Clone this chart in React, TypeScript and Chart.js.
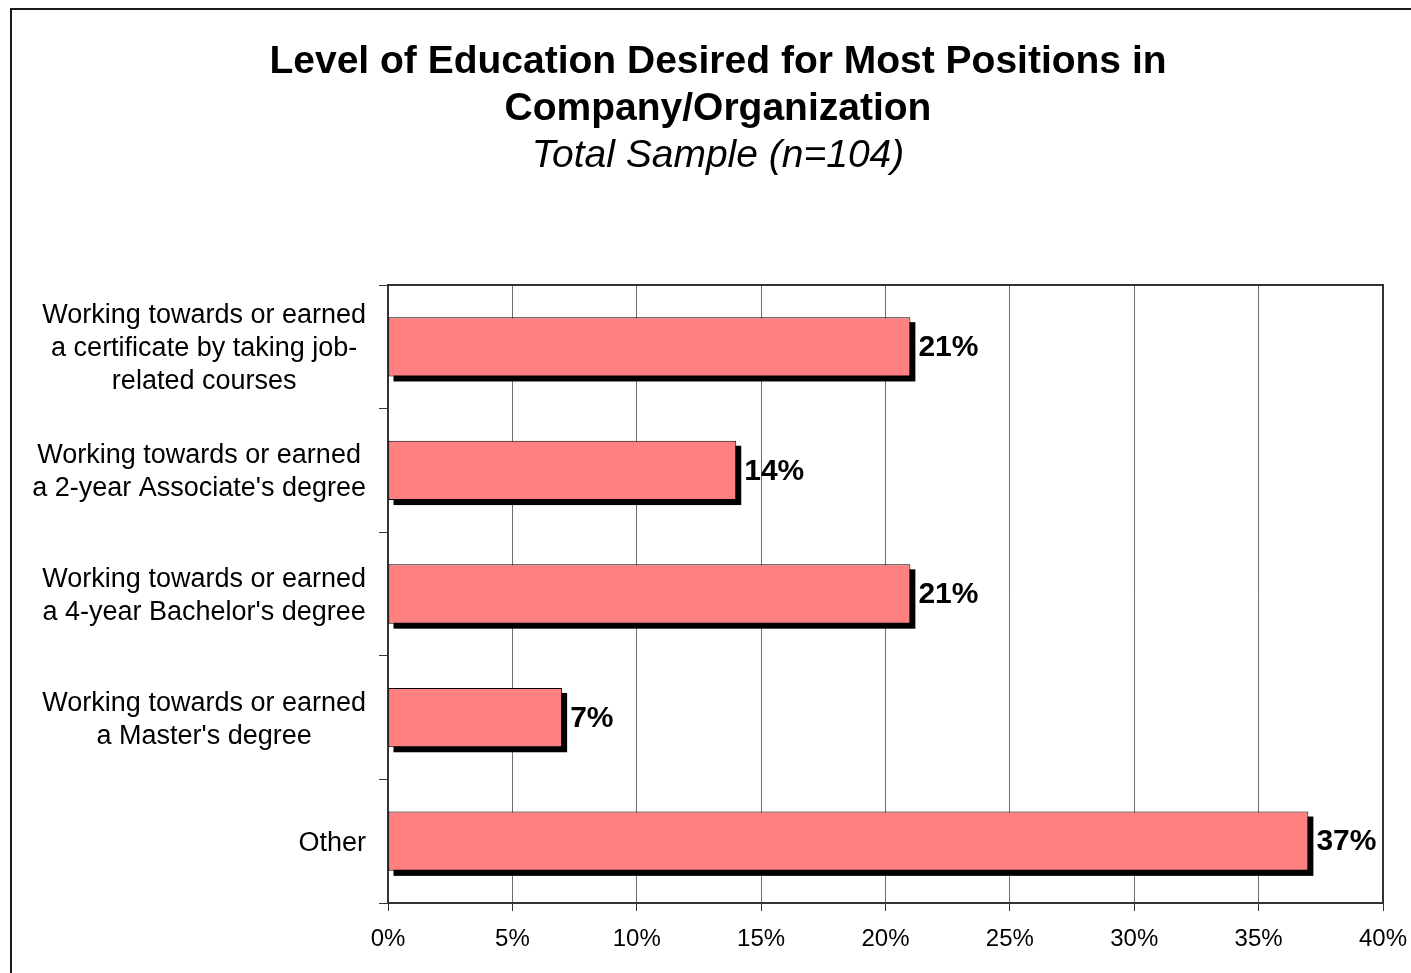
import React, { useEffect, useRef } from "react";
import { Chart, registerables } from "chart.js";

Chart.register(...registerables);

const titleLines = ["Level of Education Desired for Most Positions in", "Company/Organization"];
const subtitleText = "Total Sample (n=104)";
const categories: string[][] = [
  ["Working towards or earned", "a certificate by taking job-", "related courses"],
  ["Working towards or earned", "a 2-year Associate's degree"],
  ["Working towards or earned", "a 4-year Bachelor's degree"],
  ["Working towards or earned", "a Master's degree"],
  ["Other"],
];
const values = [21, 14, 21, 7, 37];
const xMin = 0;
const xMax = 40;
const xStep = 5;

const FONT = "'Liberation Sans', Arial, sans-serif";
const W = 1411;
const H = 973;

export default function App() {
  const ref = useRef<HTMLCanvasElement | null>(null);

  useEffect(() => {
    if (!ref.current) return;

    const framePlugin = {
      id: "frame",
      beforeDraw(chart: any) {
        const ctx = chart.ctx;
        ctx.save();
        ctx.fillStyle = "#ffffff";
        ctx.fillRect(0, 0, chart.width, chart.height);
        ctx.fillStyle = "#1a1a1a";
        ctx.fillRect(10, 8, chart.width, 2);
        ctx.fillRect(10, 8, 2, chart.height);
        // titles
        ctx.fillStyle = "#000";
        ctx.textAlign = "center";
        ctx.textBaseline = "middle";
        const cx = 718;
        ctx.font = `bold 39px ${FONT}`;
        ctx.fillText(titleLines[0], cx, 62);
        ctx.fillText(titleLines[1], cx, 109);
        ctx.font = `italic 39px ${FONT}`;
        ctx.fillText(subtitleText, cx, 156);
        ctx.restore();
      },
      beforeDatasetsDraw(chart: any) {
        const ctx = chart.ctx;
        const meta = chart.getDatasetMeta(0);
        ctx.save();
        ctx.fillStyle = "#000";
        meta.data.forEach((bar: any) => {
          const p = bar.getProps(["x", "y", "base", "height"], true);
          const left = Math.min(p.base, p.x);
          const right = Math.max(p.base, p.x);
          ctx.fillRect(left + 5, p.y - p.height / 2 + 5, right - left, p.height);
        });
        ctx.restore();
      },
      afterDatasetsDraw(chart: any) {
        const ctx = chart.ctx;
        const meta = chart.getDatasetMeta(0);
        const area = chart.chartArea;
        ctx.save();
        // plot area border (top/right)
        ctx.strokeStyle = "#333";
        ctx.lineWidth = 2;
        ctx.beginPath();
        ctx.moveTo(area.left, area.top);
        ctx.lineTo(area.right, area.top);
        ctx.lineTo(area.right, area.bottom);
        ctx.stroke();
        // data labels
        ctx.fillStyle = "#000";
        ctx.font = `bold 30px ${FONT}`;
        ctx.textAlign = "left";
        ctx.textBaseline = "middle";
        meta.data.forEach((bar: any, i: number) => {
          const p = bar.getProps(["x", "y"], true);
          ctx.fillText(values[i] + "%", p.x + 8, p.y + 1);
        });
        // category labels
        const yScale = chart.scales.y;
        ctx.font = `27px ${FONT}`;
        const rightEdge = 366;
        const lh = 33;
        categories.forEach((lines, i) => {
          const cy = yScale.getPixelForValue(i) + 2;
          const widths = lines.map((l) => ctx.measureText(l).width);
          const maxW = Math.max(...widths);
          const center = rightEdge - maxW / 2;
          lines.forEach((l, j) => {
            const y = cy + (j - (lines.length - 1) / 2) * lh;
            ctx.textAlign = "center";
            ctx.fillText(l, center, y);
          });
        });
        ctx.restore();
      },
    };

    const chart = new Chart(ref.current, {
      type: "bar",
      data: {
        labels: categories.map((c) => c.join(" ")),
        datasets: [
          {
            data: values,
            backgroundColor: "#FF8080",
            borderColor: "#000",
            borderWidth: 1,
            borderSkipped: false,
            categoryPercentage: 1,
            barPercentage: 0.48,
          },
        ],
      },
      options: {
        indexAxis: "y",
        animation: false,
        responsive: false,
        maintainAspectRatio: false,
        devicePixelRatio: 1,
        layout: { padding: { left: 0, top: 285, right: 28, bottom: 20 } },
        plugins: {
          legend: { display: false },
          title: { display: false },
          tooltip: { enabled: false },
        },
        scales: {
          x: {
            type: "linear",
            min: xMin,
            max: xMax,
            ticks: {
              stepSize: xStep,
              callback: (v: any) => v + "%",
              color: "#000",
              font: { family: FONT, size: 24 },
              padding: 14,
              maxRotation: 0,
            },
            grid: {
              color: "#6e6e6e",
              lineWidth: 1,
              tickLength: 8,
              tickColor: "#333",
              drawTicks: true,
            },
            border: { display: true, color: "#333", width: 2 },
            afterFit: (s: any) => {
              s.height = 50;
              s.paddingLeft = 0;
              s.paddingRight = 0;
            },
          },
          y: {
            type: "category",
            ticks: { display: false },
            grid: {
              drawOnChartArea: false,
              drawTicks: true,
              tickLength: 9,
              tickColor: "#333",
              offset: true,
            },
            border: { display: true, color: "#333", width: 2 },
            afterFit: (s: any) => {
              s.width = 388;
              s.paddingTop = 0;
              s.paddingBottom = 0;
            },
          },
        },
      },
      plugins: [framePlugin],
    } as any);

    return () => chart.destroy();
  }, []);

  return (
    <div style={{ position: "fixed", left: 0, top: 0, width: W, height: H, overflow: "hidden" }}>
      <canvas ref={ref} width={W} height={H} style={{ display: "block", width: W, height: H }} />
    </div>
  );
}
